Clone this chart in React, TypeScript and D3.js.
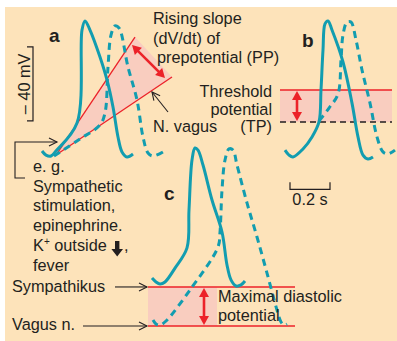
import React from 'react';
import * as d3 from 'd3';

type P = [number, number];

// time (s) from start of the solid trace, membrane potential (mV)
const aSolid: P[] = [
  [0, -57.3], [0.02, -59.5], [0.045, -60], [0.07, -57.3], [0.175, -42.2],
  [0.2, 8.1], [0.215, 13], [0.24, 8.1], [0.29, -6.5], [0.325, -18.9],
  [0.355, -33.5], [0.38, -49.7], [0.4, -57.8], [0.425, -60.5], [0.455, -58.9],
];
const aDashed: P[] = [
  [0.06, -60], [0.19, -50.8], [0.29, -43.2], [0.315, -36.8], [0.33, -11.9],
  [0.345, 5.4], [0.365, 10.3], [0.385, 9.2], [0.43, -11.9], [0.475, -29.7],
  [0.505, -49.7], [0.53, -58.4], [0.555, -60], [0.605, -57.8],
];
const aUpperSlope: P[] = [[0.07, -59.5], [0.465, 4.3]];
const aLowerSlope: P[] = [[0.07, -59.5], [0.65, -17.3]];
const aSlopeArrow: P[] = [[0.45, 0], [0.615, -17.8]];
const aVagusPointer: P[] = [[0.63, -36.2], [0.55, -25.4]];
const aMvBar: P[] = [[-0.045, -1], [-0.045, -41]];

const bSolid: P[] = [
  [0, -56.8], [0.02, -59.5], [0.04, -60.5], [0.09, -56.2], [0.135, -49.7],
  [0.17, -41.6], [0.18, -24.3], [0.19, -2.7], [0.2, 11.4], [0.215, 13],
  [0.235, 8.1], [0.29, -9.2], [0.335, -31.4], [0.365, -49.7], [0.39, -59.5],
  [0.415, -61.6], [0.44, -60.5],
];
const bDashed: P[] = [
  [0.17, -41.1], [0.22, -34.1], [0.265, -26.5], [0.28, -8.1], [0.29, 5.4],
  [0.31, 12.4], [0.33, 12.4], [0.355, 2.7], [0.385, -13.5], [0.425, -31.4],
  [0.46, -49.7], [0.49, -57.8], [0.515, -58.9], [0.55, -56.8],
];
const bThresholdHigh = -24.3;
const bThresholdLow = -41.6;
const bSpan: P = [-0.025, 0.535];
const bArrowT = 0.06;
const timeBar: P = [0.025, 0.225];
const timeBarMv = -78;

const cSolid: P[] = [
  [0, -56.8], [0.02, -58.9], [0.04, -60], [0.065, -58.9], [0.115, -51.4],
  [0.175, -40.5], [0.185, -20], [0.2, 7], [0.215, 13.5], [0.23, 12.4],
  [0.255, 4.3], [0.3, -14.6], [0.35, -31.9], [0.375, -49.7], [0.395, -57.8],
  [0.42, -61.1], [0.445, -60.5], [0.465, -58.4],
];
const cDashed: P[] = [
  [0.005, -79.5], [0.02, -81.6], [0.04, -82.2], [0.07, -80], [0.19, -63.2],
  [0.33, -40], [0.34, -31.9], [0.35, -9.2], [0.365, 7], [0.385, 13],
  [0.405, 12.4], [0.425, 4.3], [0.475, -16.2], [0.525, -34.6], [0.575, -54.1],
  [0.625, -74.1], [0.645, -80.5], [0.66, -82.2], [0.675, -81.6],
];
const cMdpHigh = -61.6;
const cMdpLow = -82.7;
const cSpan: P = [-0.02, 0.715];
const cFillEnd = 0.325;
const cArrowT = 0.26;

const leftText = ['e. g.', 'Sympathetic', 'stimulation,', 'epinephrine.', 'K', 'fever'];
const slopeText = ['Rising slope', '(dV/dt) of', 'prepotential (PP)'];
const tpText = ['Threshold', 'potential', '(TP)'];

const PX_PER_S = 200;
const PX_PER_MV = 1.85;
const mk = (x0: number, y60: number) => ({
  x: d3.scaleLinear().domain([0, 1]).range([x0, x0 + PX_PER_S]),
  y: d3.scaleLinear().domain([-60, 0]).range([y60, y60 - 60 * PX_PER_MV]),
});
const A = mk(42, 156);
const B = mk(285, 156);
const C = mk(152, 284);

const TEAL = '#129db0';
const RED = '#ec2229';
const PINK = '#f9cdbf';
const INK = '#231f20';
const FONT = 'Liberation Sans, Arial, Helvetica, sans-serif';

function path(s: { x: any; y: any }, pts: P[]) {
  return d3.line<P>().x(d => s.x(d[0])).y(d => s.y(d[1])).curve(d3.curveCatmullRom.alpha(0.5))(pts) || '';
}

function dblArrow(x1: number, y1: number, x2: number, y2: number, w: number, hl: number, hw: number, key: string) {
  const dx = x2 - x1, dy = y2 - y1;
  const L = Math.hypot(dx, dy);
  const ux = dx / L, uy = dy / L;
  const nx = -uy, ny = ux;
  const head = (tx: number, ty: number, dir: number) => {
    const bx = tx - dir * ux * hl, by = ty - dir * uy * hl;
    return `${tx},${ty} ${bx + nx * hw},${by + ny * hw} ${bx - nx * hw},${by - ny * hw}`;
  };
  return (
    <g key={key}>
      <line x1={x1 + ux * hl * 0.8} y1={y1 + uy * hl * 0.8} x2={x2 - ux * hl * 0.8} y2={y2 - uy * hl * 0.8} stroke={RED} strokeWidth={w} />
      <polygon points={head(x1, y1, -1)} fill={RED} />
      <polygon points={head(x2, y2, 1)} fill={RED} />
    </g>
  );
}

function openArrow(pts: P[], key: string) {
  const [x2, y2] = pts[pts.length - 1];
  const [x1, y1] = pts[pts.length - 2];
  const L = Math.hypot(x2 - x1, y2 - y1);
  const ux = (x2 - x1) / L, uy = (y2 - y1) / L;
  const nx = -uy, ny = ux;
  const hl = 8, hw = 4;
  const bx = x2 - ux * hl, by = y2 - uy * hl;
  return (
    <g key={key} fill="none" stroke={INK} strokeWidth={1.1}>
      <polyline points={pts.map(p => p.join(',')).join(' ')} />
      <polyline points={`${bx + nx * hw},${by + ny * hw} ${x2},${y2} ${bx - nx * hw},${by - ny * hw}`} />
    </g>
  );
}

export default function App() {
  const aApex = aUpperSlope[0];
  const tri = [aApex, aUpperSlope[1], aLowerSlope[1]].map(p => `${A.x(p[0])},${A.y(p[1])}`).join(' ');
  const txt = { fontFamily: FONT, fontSize: 16.3, fill: INK };
  return (
    <svg width={397} height={341} style={{ position: 'absolute', left: 0, top: 0 }}>
      <rect x={0} y={0} width={397} height={341} fill="#fff" />
      <rect x={5} y={7} width={392} height={334} fill="#fde3ba" />

      {/* panel a */}
      <polygon points={tri} fill={PINK} />
      {[aUpperSlope, aLowerSlope].map((l, i) => (
        <line key={i} x1={A.x(l[0][0])} y1={A.y(l[0][1])} x2={A.x(l[1][0])} y2={A.y(l[1][1])} stroke={RED} strokeWidth={1.3} />
      ))}
      <path d={path(A, aDashed)} fill="none" stroke={TEAL} strokeWidth={3} strokeDasharray="7,5" />
      <path d={path(A, aSolid)} fill="none" stroke={TEAL} strokeWidth={3} strokeLinejoin="round" />
      {dblArrow(A.x(aSlopeArrow[0][0]), A.y(aSlopeArrow[0][1]), A.x(aSlopeArrow[1][0]), A.y(aSlopeArrow[1][1]), 2.6, 9, 5, 'sa')}
      {openArrow(aVagusPointer.map(p => [A.x(p[0]), A.y(p[1])] as P), 'va')}

      {/* mV scale bar */}
      <polyline
        points={`${A.x(aMvBar[0][0]) - 6},${A.y(aMvBar[0][1])} ${A.x(aMvBar[0][0])},${A.y(aMvBar[0][1])} ${A.x(aMvBar[1][0])},${A.y(aMvBar[1][1])} ${A.x(aMvBar[1][0]) - 6},${A.y(aMvBar[1][1])}`}
        fill="none" stroke={INK} strokeWidth={1.2} />
      <text {...txt} transform={`translate(29.5,${(A.y(aMvBar[0][1]) + A.y(aMvBar[1][1])) / 2}) rotate(-90)`} textAnchor="middle">– 40 mV</text>

      {/* panel b */}
      <rect x={B.x(bSpan[0])} y={B.y(bThresholdHigh)} width={B.x(bSpan[1]) - B.x(bSpan[0])} height={B.y(bThresholdLow) - B.y(bThresholdHigh)} fill={PINK} />
      <line x1={B.x(bSpan[0])} x2={B.x(bSpan[1])} y1={B.y(bThresholdHigh)} y2={B.y(bThresholdHigh)} stroke={RED} strokeWidth={1.6} />
      <line x1={B.x(bSpan[0])} x2={B.x(bSpan[1])} y1={B.y(bThresholdLow)} y2={B.y(bThresholdLow)} stroke={INK} strokeWidth={1.6} strokeDasharray="6,4" />
      {dblArrow(B.x(bArrowT), B.y(bThresholdHigh) + 1, B.x(bArrowT), B.y(bThresholdLow) - 1, 2.6, 9, 5, 'ba')}
      <path d={path(B, bDashed)} fill="none" stroke={TEAL} strokeWidth={3} strokeDasharray="7,5" />
      <path d={path(B, bSolid)} fill="none" stroke={TEAL} strokeWidth={3} />

      {/* time scale bar */}
      <polyline
        points={`${B.x(timeBar[0])},${B.y(timeBarMv) - 7} ${B.x(timeBar[0])},${B.y(timeBarMv)} ${B.x(timeBar[1])},${B.y(timeBarMv)} ${B.x(timeBar[1])},${B.y(timeBarMv) - 7}`}
        fill="none" stroke={INK} strokeWidth={1.2} />
      <text {...txt} x={(B.x(timeBar[0]) + B.x(timeBar[1])) / 2} y={205} textAnchor="middle">0.2 s</text>

      {/* panel c */}
      <rect x={C.x(cSpan[0])} y={C.y(cMdpHigh)} width={C.x(cFillEnd) - C.x(cSpan[0])} height={C.y(cMdpLow) - C.y(cMdpHigh)} fill={PINK} />
      <line x1={C.x(cSpan[0])} x2={C.x(cSpan[1])} y1={C.y(cMdpHigh)} y2={C.y(cMdpHigh)} stroke={RED} strokeWidth={1.6} />
      <line x1={C.x(cSpan[0])} x2={C.x(cSpan[1])} y1={C.y(cMdpLow)} y2={C.y(cMdpLow)} stroke={RED} strokeWidth={1.6} />
      {dblArrow(C.x(cArrowT), C.y(cMdpHigh) + 1, C.x(cArrowT), C.y(cMdpLow) - 1, 2.6, 9, 5, 'ca')}
      <path d={path(C, cDashed)} fill="none" stroke={TEAL} strokeWidth={3} strokeDasharray="7,5" />
      <path d={path(C, cSolid)} fill="none" stroke={TEAL} strokeWidth={3} />
      {openArrow([[115, C.y(cMdpHigh)], [C.x(cSpan[0]) - 1, C.y(cMdpHigh)]], 'sy')}
      {openArrow([[83, C.y(cMdpLow)], [C.x(cSpan[0]) - 1, C.y(cMdpLow)]], 'vn')}

      {/* e.g. bracket arrow */}
      {openArrow([[25, 178], [15, 178], [15, 142], [57, 142]], 'eg')}

      {/* labels */}
      <text {...txt} x={49} y={42} fontWeight="bold" fontSize={19}>a</text>
      <text {...txt} x={302} y={47} fontWeight="bold" fontSize={19}>b</text>
      <text {...txt} x={164} y={200} fontWeight="bold" fontSize={19}>c</text>

      {slopeText.map((s, i) => (
        <text key={s} {...txt} x={i === 2 ? 157 : 153} y={24 + i * 19.5}>{s}</text>
      ))}
      <text {...txt} x={153} y={131.5}>N. vagus</text>
      {tpText.map((s, i) => (
        <text key={s} {...txt} x={272} y={97 + i * 17.5} textAnchor="end">{s}</text>
      ))}

      {leftText.map((s, i) => (
        <text key={s} {...txt} x={33} y={172 + i * 19.7}>
          {s === 'K' ? (<>K<tspan fontSize={10} dy={-6}>+</tspan><tspan dy={6}> outside</tspan></>) : s}
        </text>
      ))}
      <path d="M115,241 h4.4 v8 h3.6 l-5.8,7.5 l-5.8,-7.5 h3.6 z" fill={INK} />
      <text {...txt} x={124} y={172 + 4 * 19.7}>,</text>

      <text {...txt} x={12} y={291.5}>Sympathikus</text>
      <text {...txt} x={12} y={330}>Vagus n.</text>
      <text {...txt} x={218} y={302}>Maximal diastolic</text>
      <text {...txt} x={218} y={320.5}>potential</text>
    </svg>
  );
}
